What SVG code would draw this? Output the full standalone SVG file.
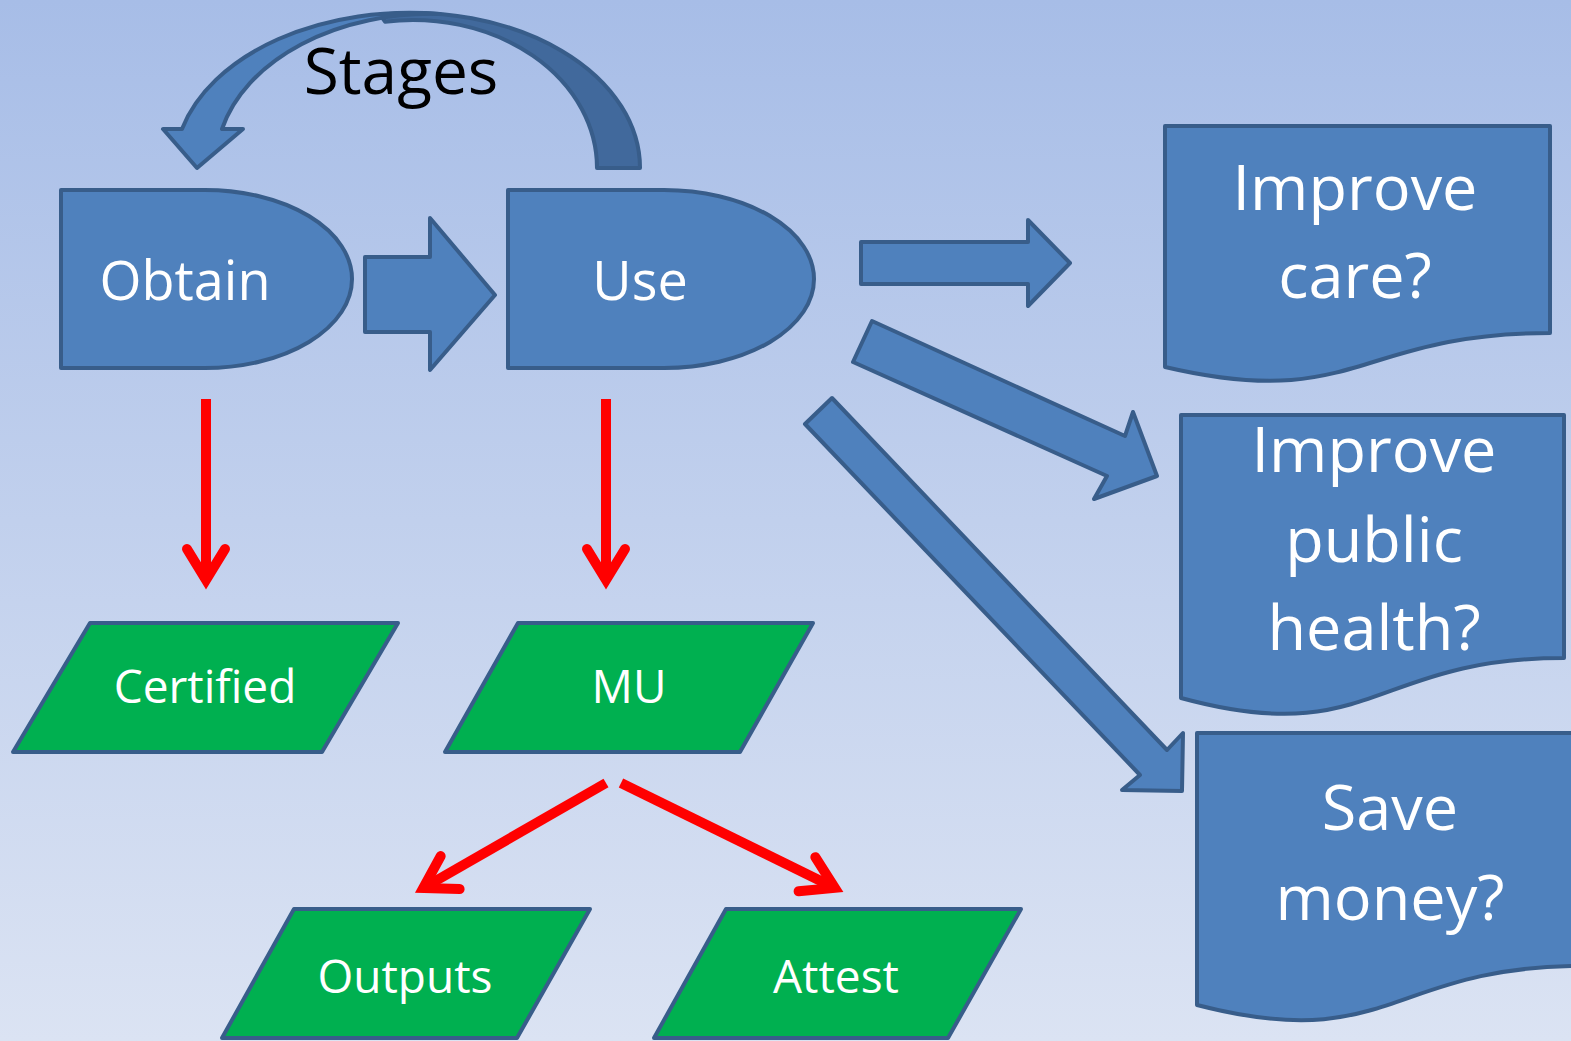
<svg xmlns="http://www.w3.org/2000/svg" width="1571" height="1041" viewBox="0 0 1571 1041">
  <defs>
    <linearGradient id="bg" x1="0" y1="0" x2="0" y2="1">
      <stop offset="0" stop-color="#a7bde7"/>
      <stop offset="1" stop-color="#dbe3f3"/>
    </linearGradient>
    <marker id="openHead" markerUnits="userSpaceOnUse" markerWidth="60" markerHeight="60" viewBox="-40 -30 60 60" refX="0" refY="0" orient="auto" overflow="visible">
      <path d="M-29,-19 L2,0 L-29,19" fill="none" stroke="#ff0000" stroke-width="10" stroke-linecap="round" stroke-linejoin="miter"/>
    </marker>
  </defs>
  <style>
    .blue { fill: #4f81bd; stroke: #385d8a; stroke-width: 4; stroke-linejoin: round; }
    .dark { fill: #41699c; stroke: #385d8a; stroke-width: 4; stroke-linejoin: round; }
    .green { fill: #00b050; stroke: #385d8a; stroke-width: 4; stroke-linejoin: round; }
    .red { fill: none; stroke: #ff0000; stroke-width: 10; stroke-linecap: butt; marker-end: url(#openHead); }
    text { font-family: "Open Sans", "Noto Sans", "Liberation Sans", sans-serif; text-anchor: middle; fill: #ffffff; }
    .big { font-size: 63px; }
    .mid { font-size: 54px; }
    .small { font-size: 46px; }
    .title { font-size: 64px; fill: #000000; }
  </style>

  <rect x="0" y="0" width="1571" height="1041" fill="url(#bg)"/>

  <!-- curved "Stages" loop arrow: shaded back band, then front band with head -->
  <g id="stages-loop">
    <path class="dark" d="M597,168 L640,168 A227,155 0 0 0 380,14.6 L385,21.7 A184,148 0 0 1 597,168 Z"/>
    <path class="blue" d="M163,129 L182,129 A235,155 0 0 1 440,14 A215,150 0 0 0 222,129 L243,129 L197,168 Z"/>
    <text class="title" x="401" y="94">Stages</text>
  </g>

  <!-- stage nodes -->
  <g id="node-obtain">
    <path class="blue" d="M61,190 H205 A147,89 0 0 1 205,368 H61 Z"/>
    <text class="mid" x="185" y="300">Obtain</text>
  </g>
  <g id="node-use">
    <path class="blue" d="M508,190 H664 A150,89 0 0 1 664,368 H508 Z"/>
    <text class="mid" x="640" y="300">Use</text>
  </g>

  <!-- outcome documents -->
  <g id="node-improve-care">
    <path class="blue" d="M1165,126 H1550 V333 C1357,333 1357,412 1165,367 Z"/>
    <text class="big" x="1355" y="210">Improve</text>
    <text class="big" x="1355" y="298">care?</text>
  </g>
  <g id="node-public-health">
    <path class="blue" d="M1181,415 H1564 V658 C1372,658 1372,750 1181,698 Z"/>
    <text class="big" x="1374" y="472">Improve</text>
    <text class="big" x="1374" y="562">public</text>
    <text class="big" x="1374" y="650">health?</text>
  </g>
  <g id="node-save-money">
    <path class="blue" d="M1197,733 H1582 V966 C1390,966 1390,1055 1197,1005 Z"/>
    <text class="big" x="1390" y="830">Save</text>
    <text class="big" x="1390" y="920">money?</text>
  </g>

  <!-- data nodes -->
  <g id="node-certified">
    <polygon class="green" points="90,623 398,623 322,752 13,752"/>
    <text class="small" x="205" y="703">Certified</text>
  </g>
  <g id="node-mu">
    <polygon class="green" points="518,623 813,623 740,752 445,752"/>
    <text class="small" x="629" y="703">MU</text>
  </g>
  <g id="node-outputs">
    <polygon class="green" points="294,909 590,909 517,1038 222,1038"/>
    <text class="small" x="405" y="993">Outputs</text>
  </g>
  <g id="node-attest">
    <polygon class="green" points="726,909 1021,909 948,1038 654,1038"/>
    <text class="small" x="836" y="993">Attest</text>
  </g>

  <!-- connectors -->
  <g id="connectors">
    <polygon class="blue" points="365,257 430,257 430,218 495,295 430,370 430,332 365,332"/>
    <polygon class="blue" points="861,242 1028,242 1028,220 1070,263 1028,306 1028,284 861,284"/>
    <polygon class="blue" points="872,321 1125,436 1133,412 1157,476 1094,499 1107,476 853,362"/>
    <polygon class="blue" points="832,398 1167,750 1183,733 1182,791 1122,790 1140,775 805,424"/>
    <line class="red" x1="206" y1="399" x2="206" y2="578"/>
    <line class="red" x1="606" y1="399" x2="606" y2="578"/>
    <line class="red" x1="606" y1="783" x2="425" y2="887"/>
    <line class="red" x1="621" y1="783" x2="833" y2="887"/>
  </g>
</svg>
